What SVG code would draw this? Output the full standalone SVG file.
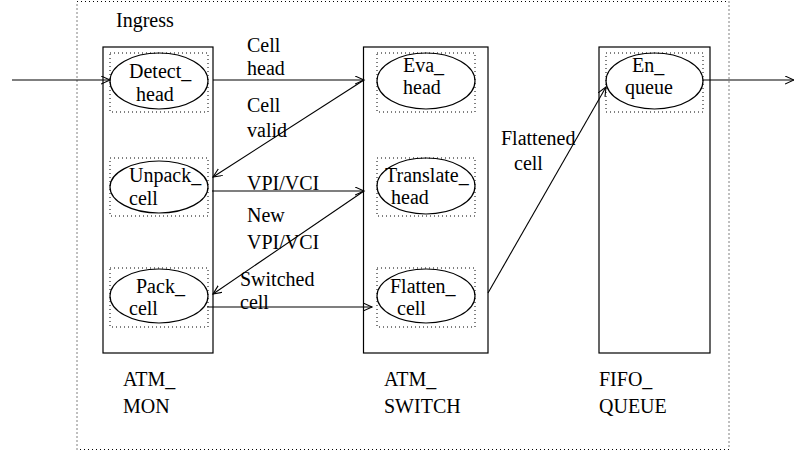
<svg xmlns="http://www.w3.org/2000/svg" width="794" height="452" viewBox="0 0 794 452">
  <style>
    .frame { fill: none; stroke: #000; stroke-width: 1.2; }
    .dot { fill: none; stroke: #000; stroke-width: 1; stroke-dasharray: 1 3; }
    .proc { fill: none; stroke: #000; stroke-width: 1.2; }
    .edge { fill: none; stroke: #000; stroke-width: 1.1; marker-end: url(#arr); }
  </style>
  <defs>
    <marker id="arr" markerUnits="userSpaceOnUse" markerWidth="12" markerHeight="10" refX="9" refY="4" orient="auto">
      <path d="M0,0 L9,4 L0,8" fill="none" stroke="#000" stroke-width="1.1"/>
    </marker>
  </defs>

  <g font-family="Liberation Serif, Times New Roman, serif" font-size="20" fill="#000">
  <!-- enclosing Ingress region -->
  <g id="ingress">
    <rect class="dot" x="77" y="1.5" width="652" height="448"/>
    <text x="116" y="27">Ingress</text>
  </g>

  <!-- ATM_MON block -->
  <g id="atm_mon">
    <rect class="frame" x="103" y="47" width="110" height="306"/>
    <text x="123" y="386">ATM_<tspan x="123" y="413">MON</tspan></text>
  </g>
  <g id="detect_head">
    <rect class="dot" x="110" y="53" width="98" height="59"/>
    <ellipse class="proc" cx="159" cy="81" rx="49" ry="28"/>
    <text x="129" y="78">Detect_<tspan x="136" y="100.5">head</tspan></text>
  </g>
  <g id="unpack_cell">
    <rect class="dot" x="110" y="158" width="98" height="58"/>
    <ellipse class="proc" cx="159" cy="187" rx="49" ry="26"/>
    <text x="129" y="182">Unpack_<tspan x="129" y="204.5">cell</tspan></text>
  </g>
  <g id="pack_cell">
    <rect class="dot" x="110" y="268" width="98" height="59"/>
    <ellipse class="proc" cx="159" cy="296" rx="49" ry="27"/>
    <text x="136" y="292.5">Pack_<tspan x="129" y="315">cell</tspan></text>
  </g>

  <!-- ATM_SWITCH block -->
  <g id="atm_switch">
    <rect class="frame" x="363.5" y="47" width="124.5" height="306"/>
    <text x="384" y="386">ATM_<tspan x="384" y="413">SWITCH</tspan></text>
  </g>
  <g id="eva_head">
    <rect class="dot" x="377" y="53" width="98" height="59"/>
    <ellipse class="proc" cx="426" cy="81" rx="49" ry="28"/>
    <text x="403" y="71.5">Eva_<tspan x="403" y="94">head</tspan></text>
  </g>
  <g id="translate_head">
    <rect class="dot" x="377" y="158" width="98" height="58"/>
    <ellipse class="proc" cx="426" cy="186" rx="49" ry="28"/>
    <text x="385" y="181.5">Translate_<tspan x="391" y="204">head</tspan></text>
  </g>
  <g id="flatten_cell">
    <rect class="dot" x="377" y="268" width="98" height="59"/>
    <ellipse class="proc" cx="426" cy="296" rx="49" ry="27"/>
    <text x="390" y="292.5">Flatten_<tspan x="397" y="315">cell</tspan></text>
  </g>

  <!-- FIFO_QUEUE block -->
  <g id="fifo_queue">
    <rect class="frame" x="599" y="47" width="111" height="306"/>
    <text x="599" y="386">FIFO_<tspan x="599" y="413">QUEUE</tspan></text>
  </g>
  <g id="en_queue">
    <rect class="dot" x="606" y="53" width="97" height="59"/>
    <ellipse class="proc" cx="654.5" cy="81" rx="48.5" ry="28"/>
    <text x="632" y="71.5">En_<tspan x="625" y="94">queue</tspan></text>
  </g>

  <!-- data flows -->
  <g id="connectors">
    <line class="edge" x1="12" y1="80" x2="110" y2="80"/>
    <line class="edge" x1="213" y1="80" x2="364" y2="80"/>
    <line class="edge" x1="364" y1="80" x2="213" y2="177"/>
    <line class="edge" x1="212" y1="191" x2="364" y2="191"/>
    <line class="edge" x1="364" y1="191" x2="213" y2="294"/>
    <line class="edge" x1="207" y1="307" x2="372" y2="307"/>
    <line class="edge" x1="488" y1="293" x2="606" y2="87"/>
    <line class="edge" x1="703" y1="80" x2="794" y2="80"/>

    <text x="247" y="52">Cell<tspan x="247" y="74.5">head</tspan></text>
    <text x="247" y="112">Cell<tspan x="247" y="137">valid</tspan></text>
    <text x="247" y="190">VPI/VCI</text>
    <text x="247" y="222">New<tspan x="247" y="249">VPI/VCI</tspan></text>
    <text x="240" y="286">Switched<tspan x="240" y="308.5">cell</tspan></text>
    <text x="501" y="145">Flattened<tspan x="514" y="170">cell</tspan></text>
  </g>
  </g>
</svg>
